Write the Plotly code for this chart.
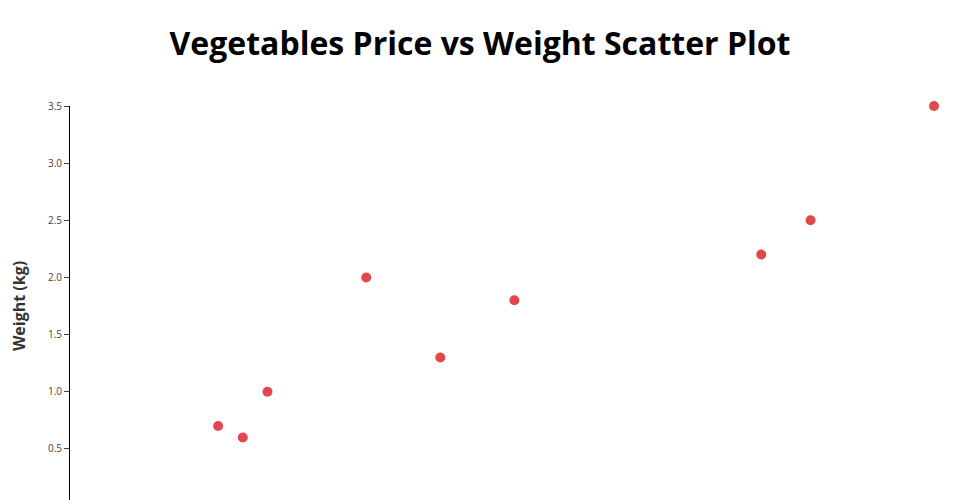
import plotly.graph_objs as go

# Price per unit vs weight of each vegetable
prices = [6, 7, 8, 12, 15, 18, 28, 30, 35]
weights = [0.7, 0.6, 1.0, 2.0, 1.3, 1.8, 2.2, 2.5, 3.5]

fig_height = 600

fig = go.Figure()

fig.add_trace(go.Scatter(
    x=prices,
    y=weights,
    mode='markers',
    marker=dict(size=10, color='#E1474C'),
    cliponaxis=False,
    name="Vegetables"
))

fig.update_layout(
    title=dict(
        text="<b>Vegetables Price vs Weight Scatter Plot</b>",
        font=dict(family="Open Sans", size=32, color="black"),
        x=0.5,
        xanchor='center',
        yref='container',
        y=1 - 36 / fig_height,
        yanchor='middle'
    ),
    width=944,
    height=fig_height,
    margin=dict(l=62, r=18, t=98, b=102),
    plot_bgcolor='white',
    paper_bgcolor='white',
    font=dict(family="Open Sans"),
    showlegend=False,
    xaxis=dict(
        range=[0, max(prices)],
        automargin=False,
        showgrid=False,
        zeroline=False,
        showline=True,
        linecolor='black',
        ticks='outside',
        ticklen=5,
        tickcolor='#444',
        tickfont=dict(size=10, color='#444'),
        title=dict(text="<b>Price</b>", font=dict(size=16, color='#333'))
    ),
    yaxis=dict(
        range=[0, max(weights)],
        automargin=False,
        showgrid=False,
        zeroline=False,
        showline=True,
        linecolor='black',
        ticks='outside',
        ticklen=5,
        tickcolor='#444',
        tickformat='.1f',
        dtick=0.5,
        tickfont=dict(size=10, color='#444'),
        title=dict(text="<b>Weight (kg)</b>", font=dict(size=16, color='#333'),
                   standoff=31)
    )
)

fig.write_html("out.html")
